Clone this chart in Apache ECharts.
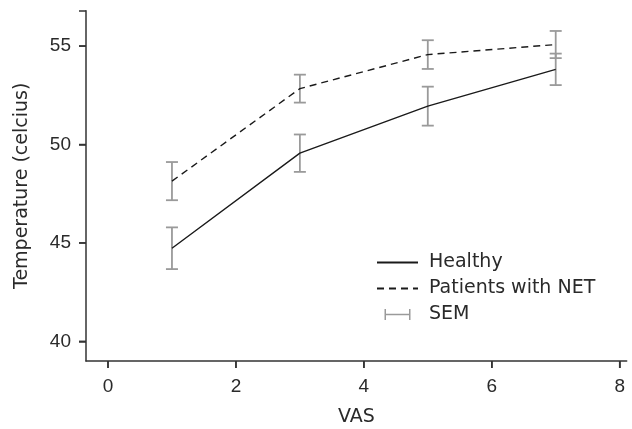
<!DOCTYPE html>
<html>
<head>
<meta charset="utf-8">
<script src="https://cdn.jsdelivr.net/npm/echarts@6/dist/echarts.min.js"></script>
<style>html,body{margin:0;padding:0;background:#fff}#c{width:632px;height:429px}</style>
</head>
<body>
<div id="c"></div>
<script>
const vas = [1, 3, 5, 7];
const healthy = [44.73, 49.56, 51.95, 53.82];
const healthySem = [1.06, 0.95, 0.99, 0.80];
const net = [48.14, 52.84, 54.57, 55.08];
const netSem = [0.97, 0.71, 0.73, 0.69];
const xTicks = [0, 2, 4, 6, 8];
const yTicks = [40, 45, 50, 55];

const NUMFONT = 'Liberation Sans';
const FONT = 'DejaVu Sans';
const TXT = '#2a2a2a';
const AX = '#333';
const ERR = '#9a9a9a';

const errData = [];
vas.forEach((x, i) => errData.push([x, healthy[i], healthySem[i]]));
vas.forEach((x, i) => errData.push([x, net[i], netSem[i]]));

const xMin = -0.344, xMax = 8.11;
const yMin = 39, yMax = 56.8;
const TICK_LEN = 7;
const hideDot = {color: 'rgba(0,0,0,0)', borderWidth: 0, opacity: 0};
const tickLine = {stroke: AX, lineWidth: 1.5, fill: null};

const chart = echarts.init(document.getElementById('c'), null, {renderer: 'canvas'});
chart.setOption({
  animation: false,
  backgroundColor: '#fff',
  textStyle: {fontFamily: NUMFONT},
  grid: {left: 86, right: 5.3, top: 10.7, bottom: 68, containLabel: false, outerBoundsMode: 'none'},
  xAxis: {
    type: 'value', min: xMin, max: xMax,
    name: 'VAS', nameLocation: 'middle', nameGap: 47,
    nameTextStyle: {fontSize: 19, color: TXT, fontFamily: FONT},
    splitLine: {show: false},
    axisLine: {show: true, onZero: false, lineStyle: {color: AX, width: 1.5}},
    axisTick: {show: true, length: TICK_LEN, lineStyle: {color: AX, width: 1.5}, customValues: xTicks},
    axisLabel: {fontSize: 19, color: TXT, margin: 16, customValues: xTicks, fontFamily: NUMFONT}
  },
  yAxis: {
    type: 'value', min: yMin, max: yMax,
    name: 'Temperature (celcius)', nameLocation: 'middle', nameGap: 54, nameRotate: 90,
    nameTextStyle: {fontSize: 19, color: TXT, fontFamily: FONT},
    splitLine: {show: false},
    axisLine: {show: true, onZero: false, lineStyle: {color: AX, width: 1.5}},
    axisTick: {show: true, length: TICK_LEN, lineStyle: {color: AX, width: 1.5}, customValues: yTicks.concat([yMax])},
    axisLabel: {fontSize: 19, color: TXT, margin: 15, customValues: yTicks, fontFamily: NUMFONT}
  },
  legend: {
    orient: 'vertical', left: 376, top: 253, padding: 0,
    itemWidth: 41, itemHeight: 11, itemGap: 7,
    textStyle: {fontSize: 19, color: TXT, lineHeight: 18, fontFamily: FONT, padding: [0, 0, 0, 6]},
    data: [
      {name: 'Healthy', itemStyle: hideDot},
      {name: 'Patients with NET', itemStyle: hideDot},
      {name: 'SEM', icon: 'path://M0,0h1.5v11h-1.5z M0,4.75h26v1.5h-26z M24.5,0h1.5v11h-1.5z'}
    ]
  },
  series: [
    {
      name: 'Healthy', type: 'line', symbol: 'none',
      data: vas.map((x, i) => [x, healthy[i]]),
      lineStyle: {color: '#1a1a1a', width: 1.4, type: 'solid'},
      itemStyle: {color: '#1a1a1a'}, z: 3
    },
    {
      name: 'Patients with NET', type: 'line', symbol: 'none',
      data: vas.map((x, i) => [x, net[i]]),
      lineStyle: {color: '#1a1a1a', width: 1.4, type: [7, 5]},
      itemStyle: {color: '#1a1a1a'}, z: 3
    },
    {
      name: 'SEM', type: 'custom',
      itemStyle: {color: ERR},
      data: errData,
      encode: {x: 0, y: 1},
      z: 2,
      renderItem: function (params, api) {
        const x = api.value(0), y = api.value(1), s = api.value(2);
        const top = api.coord([x, y + s]);
        const bot = api.coord([x, y - s]);
        const hw = 6;
        const st = {stroke: ERR, lineWidth: 1.8, fill: null};
        return {
          type: 'group',
          children: [
            {type: 'line', shape: {x1: top[0], y1: top[1], x2: bot[0], y2: bot[1]}, style: st},
            {type: 'line', shape: {x1: top[0] - hw, y1: top[1], x2: top[0] + hw, y2: top[1]}, style: st},
            {type: 'line', shape: {x1: bot[0] - hw, y1: bot[1], x2: bot[0] + hw, y2: bot[1]}, style: st}
          ]
        };
      }
    },
    {
      name: 'xTickMarks', type: 'custom', silent: true, clip: false, z: 5,
      data: xTicks.map(v => [v, yMin]),
      encode: {x: 0, y: 1},
      renderItem: function (params, api) {
        const p = api.coord([api.value(0), api.value(1)]);
        return {type: 'line', shape: {x1: p[0], y1: p[1], x2: p[0], y2: p[1] + TICK_LEN}, style: tickLine};
      }
    },
    {
      name: 'yTickMarks', type: 'custom', silent: true, clip: false, z: 5,
      data: yTicks.map(v => [xMin, v]),
      encode: {x: 0, y: 1},
      renderItem: function (params, api) {
        const p = api.coord([api.value(0), api.value(1)]);
        return {type: 'line', shape: {x1: p[0] - TICK_LEN, y1: p[1], x2: p[0], y2: p[1]}, style: tickLine};
      }
    }
  ]
});
</script>
</body>
</html>
